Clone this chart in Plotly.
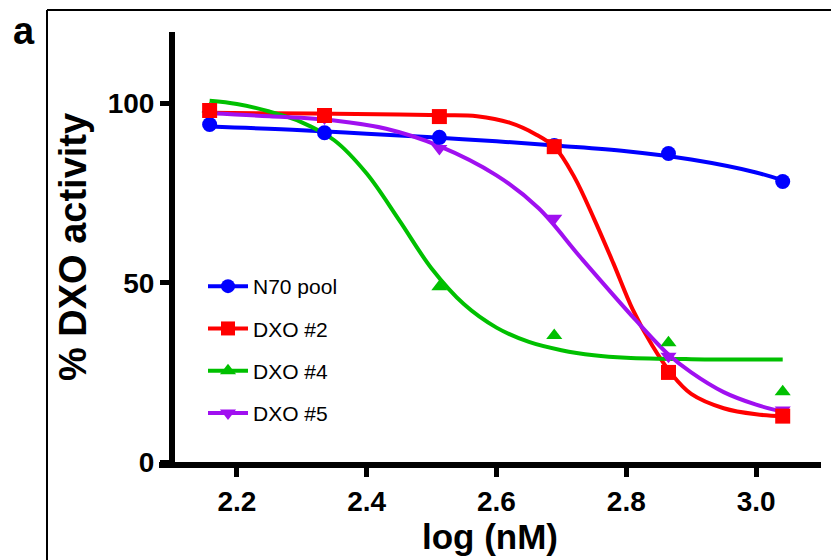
import plotly.graph_objects as go

# ---- data ----
log_conc = [2.158, 2.335, 2.512, 2.689, 2.865, 3.041]

n70_pool = [94.2, 91.9, 90.6, 88.3, 86.1, 78.3]
dxo2 = [98.1, 96.7, 96.4, 88.0, 25.0, 12.8]
dxo4 = [98.5, 96.5, 48.9, 35.3, 33.3, 19.6]
dxo5 = [97.0, 96.0, 87.5, 68.0, 29.5, 14.5]

# fitted curves
n70_fit_x = [2.158, 2.3, 2.4, 2.5, 2.6, 2.7, 2.8, 2.9, 3.0, 3.041]
n70_fit_y = [93.6, 92.6, 91.6, 90.6, 89.5, 88.2, 86.7, 84.4, 80.8, 78.6]

dxo2_fit_x = [2.158, 2.25, 2.35, 2.45, 2.52, 2.57, 2.62, 2.66, 2.69, 2.72, 2.75, 2.78,
              2.81, 2.84, 2.87, 2.90, 2.95, 3.00, 3.041]
dxo2_fit_y = [97.5, 97.3, 97.2, 97.0, 96.8, 96.5, 94.7, 91.5, 87.8, 79.5, 68.0, 55.5,
              42.5, 32.5, 24.5, 19.0, 15.0, 13.3, 12.8]

dxo4_fit_x = [2.158, 2.20, 2.25, 2.30, 2.35, 2.40, 2.45, 2.50, 2.55, 2.60, 2.65, 2.70,
              2.75, 2.80, 2.90, 3.041]
dxo4_fit_y = [100.8, 99.9, 97.8, 94.8, 89.8, 80.5, 67.5, 54.0, 44.0, 37.5, 33.5, 31.2,
              29.8, 29.1, 28.7, 28.6]

dxo5_fit_x = [2.158, 2.25, 2.35, 2.43, 2.51, 2.60, 2.665, 2.73, 2.814, 2.865, 2.90, 2.95,
              3.00, 3.041]
dxo5_fit_y = [97.3, 96.5, 95.3, 93.0, 88.3, 80.0, 70.8, 57.0, 39.7, 30.0, 25.0, 19.5,
              16.0, 14.0]

names = ["N70 pool", "DXO #2", "DXO #4", "DXO #5"]
colors = ["#0000FF", "#FF0000", "#00C000", "#A010F0"]
symbols = ["circle", "square", "triangle-up", "triangle-down"]
points = [n70_pool, dxo2, dxo4, dxo5]
fits = [(n70_fit_x, n70_fit_y), (dxo2_fit_x, dxo2_fit_y),
        (dxo4_fit_x, dxo4_fit_y), (dxo5_fit_x, dxo5_fit_y)]

x_ticks = [2.2, 2.4, 2.6, 2.8, 3.0]
x_tick_text = ["2.2", "2.4", "2.6", "2.8", "3.0"]
y_ticks = [0, 50, 100]

FONT = "Liberation Sans, Arial, sans-serif"

fig = go.Figure()

# curves
for (fx, fy), c in zip(fits, colors):
    fig.add_trace(go.Scatter(x=fx, y=fy, mode="lines", line=dict(color=c, width=4, shape="spline"),
                             showlegend=False, hoverinfo="skip"))
# points
msize = [15, 15, 14, 14]
for i in [3, 2, 0, 1]:
    fig.add_trace(go.Scatter(x=log_conc, y=points[i], mode="markers",
                             marker=dict(color=colors[i], symbol=symbols[i], size=msize[i]),
                             showlegend=False))
# legend entries
for i in range(4):
    fig.add_trace(go.Scatter(x=[None], y=[None], mode="lines+markers", name=names[i],
                             legendgroup=names[i],
                             line=dict(color=colors[i], width=4),
                             marker=dict(color=colors[i], symbol=symbols[i], size=14)))

L, R, T, B = 159, 821, 32, 462
W, H = 831, 560
pw, ph = R - L, B - T

def px(x):
    return (x - L) / pw

def py(y):
    return (B - y) / ph

fig.update_layout(
    width=W, height=H,
    margin=dict(l=L, r=W - R, t=T, b=H - B, pad=0),
    paper_bgcolor="white", plot_bgcolor="white",
    font=dict(family=FONT, color="black"),
    legend=dict(x=px(203), y=py(266), xanchor="left", yanchor="top",
                bgcolor="rgba(0,0,0,0)", font=dict(size=21, family=FONT),
                tracegroupgap=12, traceorder="grouped", itemwidth=40),
    xaxis=dict(range=[2.08, 3.10], tickvals=x_ticks, ticktext=x_tick_text,
               showgrid=False, zeroline=False, showline=True, linecolor="black", linewidth=6,
               ticks="outside", ticklen=9, tickwidth=5, tickcolor="black",
               tickfont=dict(size=28, family=FONT, weight="bold"),
               title=dict(text="log (nM)", font=dict(size=35, family=FONT, weight="bold"), standoff=6)),
    yaxis=dict(range=[0, 120], tickvals=y_ticks, anchor="free", position=px(172),
               showgrid=False, zeroline=False, showline=True, linecolor="black", linewidth=6,
               ticks="outside", ticklen=9, tickwidth=5, tickcolor="black",
               tickfont=dict(size=28, family=FONT, weight="bold"),
               title=dict(text="% DXO activity", font=dict(size=38, family=FONT, weight="bold"), standoff=8)),
)

# outer frame of the figure panel
fig.add_shape(type="line", xref="paper", yref="paper", x0=px(47), y0=py(10), x1=px(835), y1=py(10),
              line=dict(color="black", width=2))
fig.add_shape(type="line", xref="paper", yref="paper", x0=px(47), y0=py(10), x1=px(47), y1=py(565),
              line=dict(color="black", width=2))

fig.add_annotation(text="a", xref="paper", yref="paper", x=px(24), y=py(31), showarrow=False,
                   xanchor="center", yanchor="middle",
                   font=dict(size=38, family=FONT, weight="bold", color="black"))

fig.write_html("out.html")
